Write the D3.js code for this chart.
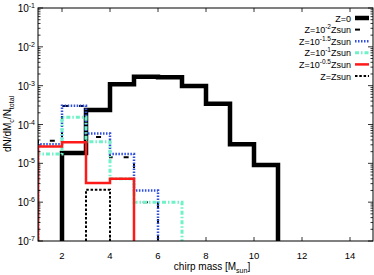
<!DOCTYPE html>
<html>
<head>
<meta charset="utf-8">
<script src="https://cdn.jsdelivr.net/npm/d3@7"></script>
<style>
  body { margin: 0; background: #fff; }
  text { font-family: "Liberation Sans", Arial, sans-serif; fill: #000; }
</style>
</head>
<body>
<div class="canvas"></div>
<script>
// bin left edges (chirp mass, width 1)
const binStarts = [1, 2, 3, 4, 5, 6, 7, 8, 9, 10];

// dN/dMc/Ntotal per bin, null = empty bin
const zZero   = [null, 1.85e-5, 2.35e-4, 1.09e-3, 1.70e-3, 1.64e-3, 9.8e-4, 3.4e-4, 3.1e-5, 9.1e-6];
const zM2     = [3.8e-5, 3.0e-4, 4.8e-5, 1.43e-5, 1.0e-6, null, null, null, null, null];
const zM15    = [3.1e-5, 3.05e-4, 5.9e-5, 1.74e-5, 2.0e-6, null, null, null, null, null];
const zM1     = [1.74e-5, 1.53e-4, 3.6e-5, 4.0e-6, 1.0e-6, 1.0e-6, null, null, null, null];
const zM05    = [2.7e-5, 3.5e-5, 3.1e-6, 4.0e-6, null, null, null, null, null, null];
const zSun    = [null, null, 2.1e-6, null, null, null, null, null, null, null];

const xTicks = [2, 4, 6, 8, 10, 12, 14];
const yExps = [-7, -6, -5, -4, -3, -2, -1];

const series = [
    {label: ['Z=0'], vals: zZero, color: '#000', width: 4.5, dash: null},
    {label: ['Z=10', '-2', 'Zsun'], vals: zM2, color: '#000', width: 2, dash: '5,11'},
    {label: ['Z=10', '-1.5', 'Zsun'], vals: zM15, color: '#2f4fe0', width: 2.5, dash: '1.5,1.5'},
    {label: ['Z=10', '-1', 'Zsun'], vals: zM1, color: '#6ff2c8', width: 3, dash: '4,2,1.5,2'},
    {label: ['Z=10', '-0.5', 'Zsun'], vals: zM05, color: '#ff1a1a', width: 2.5, dash: null},
    {label: ['Z=Zsun'], vals: zSun, color: '#000', width: 2, dash: '2.5,1.8'}
];

const W = 374, H = 275;
const margin = {top: 8, right: 1, bottom: 34, left: 38};
const gw = W - margin.left - margin.right;
const gh = H - margin.top - margin.bottom;

const svg = d3.select('.canvas')
    .append('svg')
        .attr('width', W)
        .attr('height', H);

const graph = svg.append('g')
    .attr('transform', `translate(${margin.left},${margin.top})`);

const x = d3.scaleLinear().domain([1, 15]).range([0, 14 * 24]);
const y = d3.scaleLog().domain([1e-7, 1e-1]).range([gh, 0]);

const floor = 1e-7;

// clip to plot area
svg.append('clipPath').attr('id', 'clip')
    .append('rect').attr('width', gw).attr('height', gh);

const line = d3.line()
    .x(d => x(d[0]))
    .y(d => y(d[1]))
    .curve(d3.curveStepAfter);

const stepPoints = (vals) => {
    const idx = vals.map((v, i) => v == null ? -1 : i).filter(i => i >= 0);
    const first = idx[0], last = idx[idx.length - 1];
    const pts = [[binStarts[first], floor]];
    for (let i = first; i <= last; i++) pts.push([binStarts[i], vals[i] == null ? floor : vals[i]]);
    pts.push([binStarts[last] + 1, floor]);
    return pts;
};

const plot = graph.append('g').attr('clip-path', 'url(#clip)');
series.forEach(s => {
    plot.append('path')
        .attr('d', line(stepPoints(s.vals)))
        .attr('fill', 'none')
        .attr('stroke', s.color)
        .attr('stroke-width', s.width)
        .attr('stroke-dasharray', s.dash)
        .attr('stroke-linejoin', 'miter');
});

//frame
graph.append('rect')
    .attr('width', gw).attr('height', gh)
    .attr('fill', 'none').attr('stroke', '#000').attr('stroke-width', 1);

// x ticks (inward, bottom and top)
const tk = graph.append('g').attr('stroke', '#000').attr('stroke-width', 0.8);
xTicks.forEach(t => {
    tk.append('line').attr('x1', x(t)).attr('x2', x(t)).attr('y1', gh).attr('y2', gh - 4);
    tk.append('line').attr('x1', x(t)).attr('x2', x(t)).attr('y1', 0).attr('y2', 4);
});

// y ticks, major and minor, both sides
yExps.forEach(e => {
    const v = Math.pow(10, e);
    tk.append('line').attr('x1', 0).attr('x2', 5).attr('y1', y(v)).attr('y2', y(v));
    tk.append('line').attr('x1', gw).attr('x2', gw - 5).attr('y1', y(v)).attr('y2', y(v));
    if (e < -1) {
        for (let m = 2; m < 10; m++) {
            const yy = y(m * v);
            tk.append('line').attr('x1', 0).attr('x2', 2.5).attr('y1', yy).attr('y2', yy);
            tk.append('line').attr('x1', gw).attr('x2', gw - 2.5).attr('y1', yy).attr('y2', yy);
        }
    }
});

// tick labels
graph.selectAll('.xlab').data(xTicks).enter()
    .append('text')
        .attr('x', d => x(d))
        .attr('y', gh + 18)
        .attr('text-anchor', 'middle')
        .attr('font-size', 9.5)
        .text(d => d);

const yl = graph.selectAll('.ylab').data(yExps).enter()
    .append('text')
        .attr('x', -3)
        .attr('y', d => y(Math.pow(10, d)) + 4)
        .attr('text-anchor', 'end')
        .attr('font-size', 10);
yl.append('tspan').text('10');
yl.append('tspan').attr('dy', -4).attr('font-size', 7).text(d => d);

// axis titles
const xt = svg.append('text')
    .attr('x', 212).attr('y', 270)
    .attr('text-anchor', 'middle')
    .attr('font-size', 10);
xt.append('tspan').text('chirp mass [M');
xt.append('tspan').attr('dy', 3).attr('font-size', 7).text('sun');
xt.append('tspan').attr('dy', -3).text(']');

const yt = svg.append('text')
    .attr('transform', 'translate(11,124) rotate(-90)')
    .attr('text-anchor', 'middle')
    .attr('font-size', 10);
yt.append('tspan').text('dN/dM');
yt.append('tspan').attr('dy', 2.5).attr('font-size', 7).text('c');
yt.append('tspan').attr('dy', -2.5).text('/N');
yt.append('tspan').attr('dy', 2.5).attr('font-size', 7).text('total');

// legend
const leg = svg.append('g');
series.forEach((s, i) => {
    const ly = 18 + i * 11.6;
    const t = leg.append('text')
        .attr('x', 351).attr('y', ly + 3.5)
        .attr('text-anchor', 'end')
        .attr('font-size', 9);
    t.append('tspan').text(s.label[0]);
    if (s.label.length > 1) {
        t.append('tspan').attr('dy', -4).attr('font-size', 6.5).text(s.label[1]);
        t.append('tspan').attr('dy', 4).text(s.label[2]);
    }
    leg.append('line')
        .attr('x1', 355).attr('x2', 369)
        .attr('y1', ly).attr('y2', ly)
        .attr('stroke', s.color)
        .attr('stroke-width', s.width)
        .attr('stroke-dasharray', s.dash);
});
</script>
</body>
</html>
